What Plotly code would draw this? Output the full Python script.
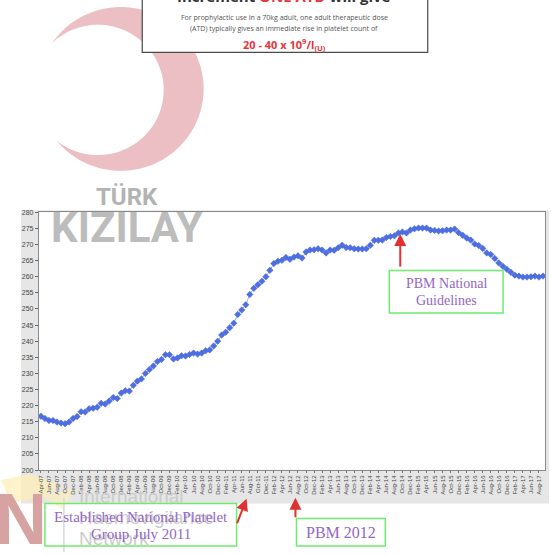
import numpy as np
import plotly.graph_objects as go

W, H = 551, 555

# ---------------- data ----------------
month_names = ["Jan", "Feb", "Mar", "Apr", "May", "Jun", "Jul", "Aug", "Sep", "Oct", "Nov", "Dec"]
months = []
for yr in range(2007, 2018):
    for m in range(12):
        if yr == 2007 and m < 3:
            continue
        if yr == 2017 and m > 8:
            continue
        months.append(f"{month_names[m]}-{str(yr)[2:]}")

platelet_values = [
    216.7, 216.0, 215.4, 215.4, 214.9, 214.6, 214.4, 214.9, 216.0, 216.6,
    218.1, 218.0, 219.0, 219.2, 219.5, 220.7, 220.5, 221.4, 222.5, 222.2,
    223.9, 224.6, 224.5, 226.3, 227.6, 228.3, 230.0, 231.2, 232.3, 233.7,
    234.3, 235.8, 235.8, 234.5, 234.8, 235.5, 235.4, 235.9, 236.3, 236.0,
    236.3, 237.0, 237.3, 238.5, 240.0, 241.9, 242.8, 244.2, 245.6,
    248.3, 249.7, 251.3, 254.5, 256.4, 257.5, 258.6, 260.0, 262.0, 264.1,
    264.8, 265.1, 266.0, 265.4, 266.1, 266.5, 265.8, 267.7, 268.3, 268.4,
    268.7, 268.3, 267.4, 268.3, 268.2, 269.0, 269.8, 269.1, 269.0, 268.7,
    268.6, 268.6, 268.7, 269.8, 271.3, 271.3, 271.4, 272.2, 272.5, 272.7,
    273.6,
    273.9, 273.6, 274.5, 274.9, 275.1, 275.1, 275.1, 274.5, 274.4, 274.2,
    274.3, 274.5, 274.5, 274.8, 273.7, 272.9, 272.0, 271.4, 270.2, 269.7,
    268.8, 267.4, 266.9, 265.7, 264.3, 263.3, 262.3, 261.4, 260.5, 260.2,
    259.9, 259.9, 260.0, 260.2, 259.9, 260.2,
]
months = months[:len(platelet_values)]
tick_labels = months[::2]
y_ticks = list(range(200, 281, 5))


# ---------------- helpers (pixel -> paper) ----------------
def px(x):
    return x / W


def py(y):
    return 1 - y / H


def circle_path(cx, cy, r, n=90):
    t = np.linspace(0, 2 * np.pi, n, endpoint=False)
    pts = [(px(cx + r * np.cos(a)), py(cy + r * np.sin(a))) for a in t]
    return "M " + " L ".join(f"{a:.5f},{b:.5f}" for a, b in pts) + " Z"


def poly_path(points):
    return "M " + " L ".join(f"{px(a):.5f},{py(b):.5f}" for a, b in points) + " Z"


PLOT_L, PLOT_R, PLOT_T, PLOT_B = 38, 545, 211, 472

fig = go.Figure()
fig.add_trace(go.Scatter(
    x=months, y=platelet_values, mode="lines+markers",
    line=dict(color="#a3ade8", width=1),
    marker=dict(symbol="diamond", size=5, color="#4f6fe0",
                line=dict(color="#4466dd", width=0.5)),
    hoverinfo="x+y", showlegend=False,
))

shapes = []
# crescent (pink circle minus white circle)
shapes.append(dict(type="path", xref="paper", yref="paper", path=circle_path(120, 86, 83),
                   fillcolor="#ecbfc5", line=dict(width=0), layer="below"))
shapes.append(dict(type="path", xref="paper", yref="paper", path=circle_path(97, 87, 66),
                   fillcolor="white", line=dict(width=0), layer="below"))
# chart gray background and white plot area
shapes.append(dict(type="rect", xref="paper", yref="paper",
                   x0=px(20), x1=px(549), y0=py(506), y1=py(209),
                   fillcolor="#e6e6e6", line=dict(width=0), layer="below"))
shapes.append(dict(type="rect", xref="paper", yref="paper",
                   x0=px(PLOT_L), x1=px(PLOT_R), y0=py(PLOT_B), y1=py(PLOT_T),
                   fillcolor="white", line=dict(width=0), layer="below"))
# top info box
shapes.append(dict(type="rect", xref="paper", yref="paper",
                   x0=px(141.5), x1=px(427.5), y0=py(49), y1=py(-5),
                   fillcolor="white", line=dict(color="#4a4a4a", width=1.2), layer="above"))
# IHN logo yellow rays
shapes.append(dict(type="path", xref="paper", yref="paper",
                   path=poly_path([(0, 482), (30, 476), (60, 488), (40, 500), (10, 505)]),
                   fillcolor="rgba(253,238,180,0.7)", line=dict(width=0), layer="below"))
shapes.append(dict(type="path", xref="paper", yref="paper",
                   path=poly_path([(40, 498), (75, 490), (62, 512)]),
                   fillcolor="rgba(253,238,180,0.6)", line=dict(width=0), layer="below"))
# IHN logo separator
shapes.append(dict(type="line", xref="paper", yref="paper",
                   x0=px(63), x1=px(63), y0=py(500), y1=py(555),
                   line=dict(color="#d8d8d8", width=1.5), layer="below"))
# annotation boxes (green)
green = "#6fec6f"
for (x0, y0, x1, y1) in [(44, 506, 236, 549), (296, 521, 385, 549), (389, 270, 503, 313)]:
    shapes.append(dict(type="rect", xref="paper", yref="paper",
                       x0=px(x0), x1=px(x1), y0=py(y1), y1=py(y0),
                       line=dict(color=green, width=1.5), fillcolor="rgba(0,0,0,0)",
                       layer="above"))

purple = "#9466c4"
red = "#e0302f"
serif = "Liberation Serif"

annotations = []


def text(x, y, s, size, color, family="Liberation Sans", xanchor="center", **kw):
    annotations.append(dict(x=px(x), y=py(y), xref="paper", yref="paper", text=s,
                            showarrow=False, xanchor=xanchor, yanchor="middle",
                            font=dict(size=size, color=color, family=family), **kw))


# IHN logo texts
text(20, 522, "<b>N</b>", 72, "#d6a2a2")
text(76, 499, "International", 19, "#cccccc", family="Liberation Sans", xanchor="left")
text(76, 520, "Haemovigilance", 19, "#cccccc", family="Liberation Sans", xanchor="left")
text(76, 541, "Network", 19, "#cccccc", family="Liberation Sans", xanchor="left")

# Türk Kızılay logo texts
text(126.5, 195, "<b>TÜRK</b>", 24, "#b3b3b3", family="Roboto")
text(126, 226, "<b>KIZILAY</b>", 42, "#bcbcbc", family="Roboto")

# top box texts
text(284, -8, "<b>Increment <span style='color:#e8343c'>ONE ATD</span> will give</b>", 15, "#333333",
     family="Open Sans")
text(284, 14, "For prophylactic use in a 70kg adult, one adult therapeutic dose", 7, "#555555",
     family="Open Sans")
text(284, 25, "(ATD) typically gives an immediate rise in platelet count of", 7, "#555555",
     family="Open Sans")
text(284, 41, "<b>20 - 40 x 10<sup>9</sup>/l<sub>(U)</sub></b>", 11, "#e8343c", family="Open Sans")

# annotation box texts
text(140, 520, "Established National Platelet", 15, purple, family=serif)
text(140, 537, "Group July 2011", 15, purple, family=serif)
text(340.5, 535, "PBM 2012", 16, purple, family=serif)
text(446, 283, "PBM National", 14, purple, family=serif)
text(446, 300, "Guidelines", 14, purple, family=serif)


# arrows
def arrow(tipx, tipy, tailx, taily):
    annotations.append(dict(x=px(tipx), y=py(tipy), xref="paper", yref="paper",
                            ax=tailx - tipx, ay=taily - tipy, axref="pixel", ayref="pixel",
                            text="", showarrow=True, arrowhead=2, arrowsize=1.2,
                            arrowwidth=2, arrowcolor=red))


arrow(400, 233, 400, 267)
arrow(246, 501, 236, 527)
arrow(295, 500, 295, 521)

fig.update_layout(
    width=W, height=H, autosize=False,
    margin=dict(l=0, r=0, t=0, b=0, pad=0),
    paper_bgcolor="white", plot_bgcolor="rgba(0,0,0,0)",
    shapes=shapes, annotations=annotations,
    xaxis=dict(
        domain=[px(PLOT_L), px(PLOT_R)], type="category",
        categoryorder="array", categoryarray=months,
        range=[-0.5, len(months) - 0.5],
        tickmode="array", tickvals=tick_labels, ticktext=tick_labels,
        tickangle=-90, tickfont=dict(size=6, color="#444444", family="Liberation Sans"),
        ticks="outside", ticklen=2, tickcolor="#777777",
        showline=True, linecolor="#8a8a8a", linewidth=1, mirror=True,
        showgrid=False, zeroline=False, fixedrange=True,
    ),
    yaxis=dict(
        domain=[py(PLOT_B), py(PLOT_T)],
        range=[200, 280], tickmode="array", tickvals=y_ticks,
        ticktext=[str(v) for v in y_ticks],
        tickfont=dict(size=7, color="#444444", family="Liberation Sans"),
        ticks="outside", ticklen=3, tickcolor="#666666",
        showline=True, linecolor="#8a8a8a", linewidth=1, mirror=True,
        showgrid=False, zeroline=False, fixedrange=True,
    ),
)

fig.write_html("out.html", config={"displayModeBar": False},
               post_script="document.body.style.margin='0';document.body.style.overflow='hidden';")
